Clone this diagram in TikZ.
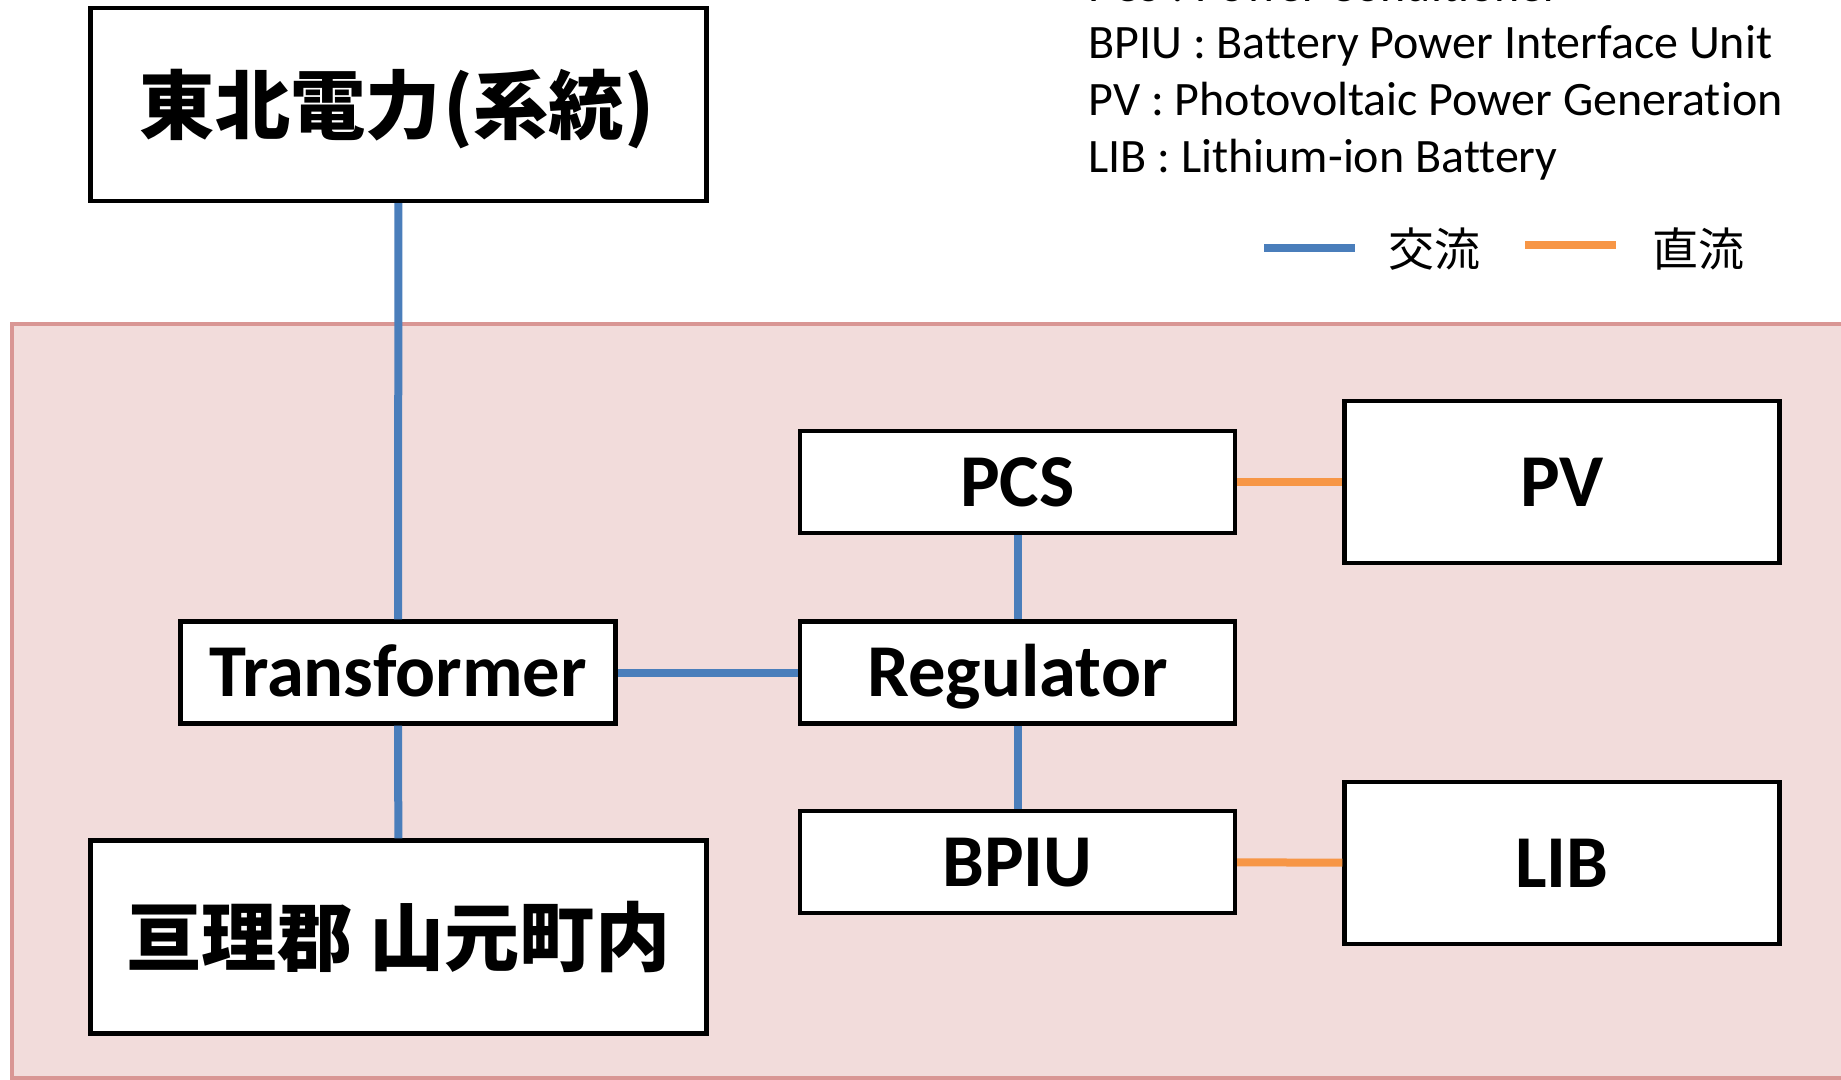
\documentclass[tikz,border=0pt]{standalone}
\usepackage{fontspec}
\setmainfont{Carlito}[Ligatures=NoCommon]
\newfontfamily\jp{Noto Sans CJK JP}
\usepackage{tikz}
\definecolor{acblue}{HTML}{4A7EBB}
\definecolor{dcorange}{HTML}{F79646}
\definecolor{sitefill}{HTML}{F2DCDB}
\definecolor{siteline}{HTML}{D99694}
\tikzstyle{unit}=[draw,line width=2.2pt,fill=white,inner sep=0pt,font=\fontsize{37.3}{41}\selectfont\bfseries,text height=24pt,text depth=0pt,minimum width=217.5pt,minimum height=51pt]
\tikzstyle{source}=[unit,minimum height=81pt]
\tikzstyle{place}=[unit,font=\jp\fontsize{37.6}{41}\selectfont\bfseries,text height=28.6pt,minimum width=308pt,minimum height=96.5pt]
\tikzstyle{ac}=[line width=4pt,acblue]
\tikzstyle{dc}=[line width=4pt,dcorange]
\tikzstyle{abbr}=[anchor=base west,inner sep=0pt,font=\fontsize{24}{28}\selectfont]
\tikzstyle{key}=[inner sep=0pt,font=\jp\fontsize{23}{28}\selectfont]
\begin{document}
\begin{tikzpicture}[x=0.5pt,y=-0.5pt]
	\useasboundingbox (0,0) rectangle (1841,1080);
	\draw[line width=2pt,draw=siteline,fill=sitefill] (12,324) rectangle (1860,1078);
	% boxes
	\node[place] (grid)  at (398.5,104.5) {東北電力\kern1.5pt(系統)\kern1.5pt};
	\node[place] (town)  at (398.5,937)   {亘理郡 山元町内};
	\node[unit]  (trans) at (398,672.5)   {Transformer};
	\node[unit]  (pcs)   at (1017.5,482)  {PCS};
	\node[unit]  (reg)   at (1017.5,672.5){Regulator};
	\node[unit]  (bpiu)  at (1017.5,862)  {BPIU};
	\node[source] (pv)   at (1562,482)    {PV};
	\node[source] (lib)  at (1562,863)    {LIB};
	% lines
	\draw[ac] (grid) -- (trans);
	\draw[ac] (trans) -- (town);
	\draw[ac] (trans) -- (reg);
	\draw[ac] (pcs) -- (reg);
	\draw[ac] (reg) -- (bpiu);
	\draw[dc] (pcs) -- (pv);
	\draw[dc] (bpiu) -- (lib);
	% legend
	\node[abbr] (abbr1) at (1088,2)   {PCS : Power Conditioner};
	\node[abbr] (abbr2) at (1088,59)  {BPIU : Battery Power Interface Unit};
	\node[abbr] (abbr3) at (1088,116) {PV : Photovoltaic Power Generation};
	\node[abbr] (abbr4) at (1088,173) {LIB : Lithium-ion Battery};
	\coordinate (ac-a) at (1264,248);
	\coordinate (ac-b) at (1355,248);
	\coordinate (dc-a) at (1525,245);
	\coordinate (dc-b) at (1616,245);
	\draw[ac] (ac-a) -- (ac-b);
	\draw[dc] (dc-a) -- (dc-b);
	\node[key] (ac-key) at (1434,249) {交流};
	\node[key] (dc-key) at (1698,249) {直流};
\end{tikzpicture}
\end{document}
